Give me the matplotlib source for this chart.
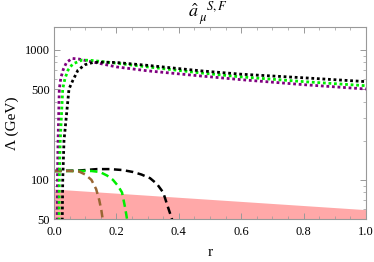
import matplotlib
matplotlib.use("Agg")
import matplotlib.pyplot as plt
from matplotlib.ticker import FixedLocator, NullFormatter, MultipleLocator

plt.rcParams['font.family'] = ['Liberation Serif', 'DejaVu Serif']
plt.rcParams['mathtext.fontset'] = 'stix'

# dotted curves (r, Lambda)
r_purple = [0.010, 0.011, 0.013, 0.017, 0.022, 0.03, 0.04, 0.058, 0.08, 0.1, 0.2, 0.3, 0.47, 0.6, 0.8, 1.0]
L_purple = [40, 100, 200, 500, 610, 710, 800, 860, 850, 830, 740, 690, 630, 590, 540, 500]
r_green = [0.016, 0.017, 0.020, 0.028, 0.035, 0.045, 0.06, 0.09, 0.12, 0.2, 0.3, 0.47, 0.6, 0.8, 1.0]
L_green = [40, 100, 200, 500, 600, 700, 780, 835, 830, 790, 740, 665, 620, 570, 530]
r_black = [0.026, 0.028, 0.032, 0.048, 0.06, 0.077, 0.1, 0.125, 0.15, 0.2, 0.3, 0.47, 0.6, 0.8, 1.0]
L_black = [40, 100, 200, 500, 580, 700, 770, 800, 805, 800, 760, 690, 650, 610, 570]

# dashed curves
r_brown = [0.0, 0.05, 0.08, 0.10, 0.12, 0.135, 0.145, 0.152, 0.157]
L_brown = [117, 117, 116, 110, 100, 85, 70, 58, 48]
r_gdash = [0.0, 0.08, 0.12, 0.147, 0.17, 0.189, 0.205, 0.218, 0.228, 0.234, 0.236]
L_gdash = [117, 117, 117, 115, 108, 100, 90, 80, 61, 50, 48]
r_kdash = [0.0, 0.08, 0.138, 0.18, 0.22, 0.253, 0.28, 0.308, 0.33, 0.35, 0.365, 0.378, 0.38]
L_kdash = [117, 118, 121, 121, 119, 115, 110, 103, 93, 80, 62, 50, 48]

# excluded region
r_fill = [0.0, 1.0]
L_fill_top = [85, 59]

fig = plt.figure(figsize=(3.74, 2.62), dpi=100)
ax = fig.add_axes([54/374, 1-219/262, 312/374, 192/262])
ax.set_yscale('log')
ax.set_xlim(0, 1)
ax.set_ylim(50, 1500)

ax.fill_between(r_fill, 50, L_fill_top, color='#ffa8a8', lw=0, zorder=1)

ax.plot(r_purple, L_purple, color='#800080', lw=2.0, dashes=(1, 1), zorder=3)
ax.plot(r_green, L_green, color='#00ee00', lw=2.0, dashes=(1, 1), zorder=3)
ax.plot(r_black, L_black, color='black', lw=2.0, dashes=(1, 1), zorder=3)

ax.plot(r_kdash, L_kdash, color='black', lw=1.8, dashes=(3, 1.8), zorder=2)
ax.plot(r_gdash, L_gdash, color='#00ee00', lw=1.8, dashes=(3, 1.8), zorder=2)
ax.plot(r_brown, L_brown, color='#996633', lw=1.8, dashes=(3, 1.8), zorder=2)

ax.yaxis.set_major_locator(FixedLocator([50, 100, 500, 1000]))
ax.yaxis.set_major_formatter(matplotlib.ticker.FixedFormatter(['50', '100', '500', '1000']))
ax.yaxis.set_minor_locator(FixedLocator([60, 70, 80, 90, 200, 300, 400, 600, 700, 800, 900]))
ax.yaxis.set_minor_formatter(NullFormatter())
ax.xaxis.set_major_locator(MultipleLocator(0.2))
ax.xaxis.set_minor_locator(MultipleLocator(0.05))
ax.xaxis.set_major_formatter(matplotlib.ticker.FuncFormatter(lambda v, p: f"{v:.1f}"))

for s in ax.spines.values():
    s.set_color('#999999')
    s.set_linewidth(0.8)
ax.tick_params(which='both', direction='in', top=True, right=True, color='#999999',
               labelsize=9, labelcolor='black')
ax.tick_params(axis='x', pad=5)
ax.tick_params(axis='y', pad=3)
ax.tick_params(which='major', length=4, width=0.7)
ax.tick_params(which='minor', length=2, width=0.5)

ax.set_xlabel('r', fontsize=11, labelpad=6)
ax.set_ylabel('Λ (GeV)', fontsize=11, labelpad=4)
fig.text(0.555, 0.95, r'$\hat{a}_{\;\mu}^{\quad S,F}$', ha='center', va='center', fontsize=13)

fig.savefig('out.png', dpi=100)
